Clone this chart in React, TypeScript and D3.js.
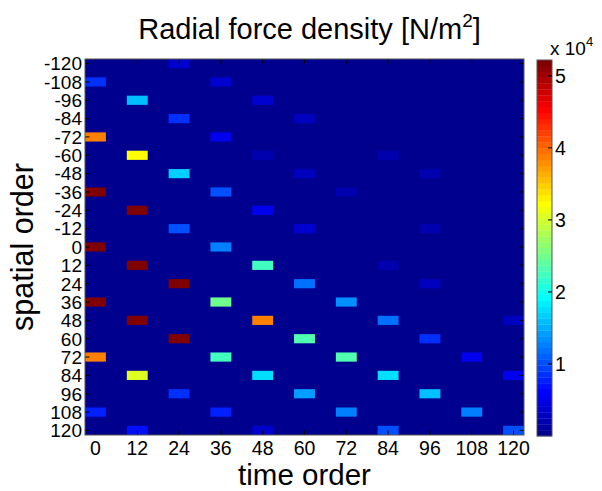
import React from "react";
import * as d3 from "d3";

// ---- data (N/m^2) ----
const timeTicks = [0, 12, 24, 36, 48, 60, 72, 84, 96, 108, 120];
const spatialTicks = [-120, -108, -96, -84, -72, -60, -48, -36, -24, -12, 0, 12, 24, 36, 48, 60, 72, 84, 96, 108, 120];
const colorbarTicks = [10000, 20000, 30000, 40000, 50000];
const colorbarTickLabels = ["1", "2", "3", "4", "5"];

const timeOrder = [
  0, 0, 0, 0, 0, 0, 0,
  12, 12, 12, 12, 12, 12, 12,
  24, 24, 24, 24, 24, 24, 24,
  36, 36, 36, 36, 36, 36, 36,
  48, 48, 48, 48, 48, 48, 48,
  60, 60, 60, 60, 60, 60,
  72, 72, 72, 72,
  84, 84, 84, 84, 84,
  96, 96, 96, 96, 96,
  108, 108,
  120, 120, 120,
];
const spatialOrder = [
  -108, -72, -36, 0, 36, 72, 108,
  -96, -60, -24, 12, 48, 84, 120,
  -120, -84, -48, -12, 24, 60, 96,
  -108, -72, -36, 0, 36, 72, 108,
  -96, -60, -24, 12, 48, 84, 120,
  -84, -48, -12, 24, 60, 96,
  -36, 36, 72, 108,
  -60, 12, 48, 84, 120,
  -48, -12, 24, 60, 96,
  72, 108,
  48, 84, 120,
];
const density = [
  8500, 39000, 52000, 52000, 52000, 38600, 8000,
  16300, 31900, 52000, 52000, 52000, 30800, 6800,
  3900, 8500, 16900, 9800, 52000, 52000, 8500,
  3300, 5200, 9800, 13000, 24700, 22800, 7800,
  3300, 2000, 5700, 22800, 38500, 17600, 3900,
  2600, 2800, 3300, 11700, 23400, 14600,
  2300, 13700, 23400, 12400,
  2300, 2000, 11700, 17600, 10400,
  2300, 2300, 2600, 8500, 16300,
  5700, 13000,
  2600, 5500, 10400,
];

const cMin = 0;
const cMax = 52200;

// MATLAB jet(64)
function jetColormap(m: number): string[] {
  const n = 16;
  const u = (j: number) => (j < 1 || j > 47 ? 0 : j <= 16 ? j / n : j <= 31 ? 1 : (48 - j) / n);
  const out: string[] = [];
  for (let k = 1; k <= m; k++) {
    const r = u(k - 24);
    const g = u(k - 8);
    const b = u(k + 8);
    out.push(d3.rgb(r * 255, g * 255, b * 255).formatHex());
  }
  return out;
}
const jet = jetColormap(64);

const W = 602;
const H = 491;
const plot = { left: 85, right: 524, top: 59, bottom: 435 };
const cbar = { left: 537, right: 552, top: 60, bottom: 436 };
const FONT = "'Liberation Sans', Arial, Helvetica, sans-serif";

export default function App() {
  const x = d3.scaleLinear().domain([-3, 123]).range([plot.left, plot.right]);
  const y = d3.scaleLinear().domain([-123, 123]).range([plot.top, plot.bottom]);
  const color = d3.scaleQuantize<string>().domain([cMin, cMax]).range(jet);
  const cy = d3.scaleLinear().domain([cMin, cMax]).range([cbar.bottom, cbar.top]);
  const bands = d3.range(64);
  const bandH = (cbar.bottom - cbar.top) / 64;
  const tickLen = 4.5;

  return (
    <svg width={W} height={H} style={{ position: "absolute", left: 0, top: 0, background: "#fff" }} fontFamily={FONT}>
      <rect x={0} y={0} width={W} height={H} fill="#fff" />
      {/* background = zero-valued cells */}
      <rect x={plot.left} y={plot.top} width={plot.right - plot.left} height={plot.bottom - plot.top} fill={color(0)} />
      {density.map((v, i) => {
        const t = timeOrder[i];
        const s = spatialOrder[i];
        const x0 = x(t - 3);
        const x1 = x(t + 3);
        const y0 = y(s - 3);
        const y1 = y(s + 3);
        return <rect key={i} x={x0} y={y0} width={x1 - x0} height={y1 - y0} fill={color(v)} />;
      })}
      {/* ticks */}
      {timeTicks.map((t) => (
        <g key={"xt" + t}>
          <line x1={x(t)} x2={x(t)} y1={plot.bottom} y2={plot.bottom - tickLen} stroke="#000" strokeWidth={1} />
          <line x1={x(t)} x2={x(t)} y1={plot.top} y2={plot.top + tickLen} stroke="#000" strokeWidth={1} />
          <text x={x(t)} y={455} fontSize={19.5} textAnchor="middle" fill="#000">{t}</text>
        </g>
      ))}
      {spatialTicks.map((s) => (
        <g key={"yt" + s}>
          <line x1={plot.left} x2={plot.left + tickLen} y1={y(s)} y2={y(s)} stroke="#000" strokeWidth={1} />
          <line x1={plot.right} x2={plot.right - tickLen} y1={y(s)} y2={y(s)} stroke="#000" strokeWidth={1} />
          <text x={82} y={y(s)} dy="0.36em" fontSize={19} textAnchor="end" fill="#000">{s}</text>
        </g>
      ))}
      <rect x={plot.left} y={plot.top} width={plot.right - plot.left} height={plot.bottom - plot.top} fill="none" stroke="#555" strokeWidth={1} />

      {/* colorbar */}
      {bands.map((k) => (
        <rect key={"cb" + k} x={cbar.left} y={cbar.bottom - (k + 1) * bandH} width={cbar.right - cbar.left} height={bandH + 0.3} fill={jet[k]} />
      ))}
      <rect x={cbar.left} y={cbar.top} width={cbar.right - cbar.left} height={cbar.bottom - cbar.top} fill="none" stroke="#555" strokeWidth={1} />
      {colorbarTicks.map((v, i) => (
        <g key={"ct" + v}>
          <line x1={cbar.right} x2={cbar.right - 4} y1={cy(v)} y2={cy(v)} stroke="#000" strokeWidth={1} />
          <text x={555} y={cy(v)} dy="0.36em" fontSize={19.5} fill="#000">{colorbarTickLabels[i]}</text>
        </g>
      ))}
      <text x={550} y={55} fontSize={19} fill="#000">
        x 10<tspan dy={-9} fontSize={13}>4</tspan>
      </text>

      {/* title and axis labels */}
      <text x={(plot.left + plot.right) / 2 + 5} y={39} fontSize={29} textAnchor="middle" fill="#000">
        Radial force density [N/m<tspan dy={-12} fontSize={19}>2</tspan><tspan dy={12}>]</tspan>
      </text>
      <text x={(plot.left + plot.right) / 2} y={485} fontSize={29.5} textAnchor="middle" fill="#000">time order</text>
      <text transform={`translate(33,${(plot.top + plot.bottom) / 2}) rotate(-90)`} fontSize={30.5} textAnchor="middle" fill="#000">spatial order</text>
    </svg>
  );
}
